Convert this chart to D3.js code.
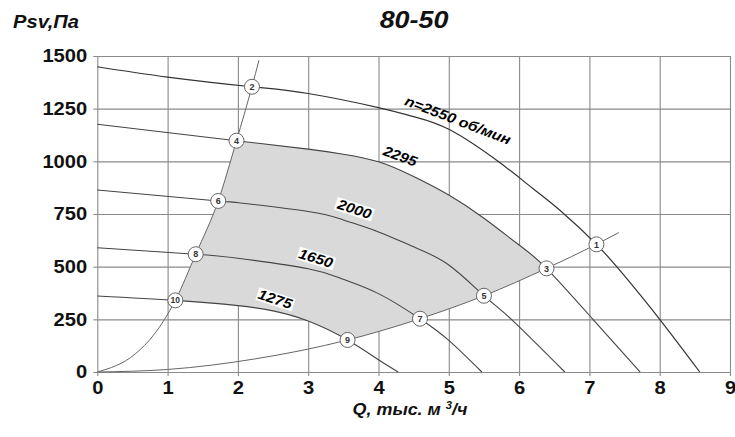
<!DOCTYPE html>
<html>
<head>
<meta charset="utf-8">
<script src="https://cdn.jsdelivr.net/npm/d3@7"></script>
<style>
  body { margin: 0; background: #fff; }
  svg { display: block; }
  text { font-family: "Liberation Sans", Arial, sans-serif; }
</style>
</head>
<body>
<svg id="chart" width="735" height="437"></svg>
<script>
// Axis ticks
const xTicks = [0, 1, 2, 3, 4, 5, 6, 7, 8, 9];
const yTicks = [0, 250, 500, 750, 1000, 1250, 1500];

// Operating points (Q in thousand m³/h, Psv in Pa)
const markers = [
  { id: 1,  q: 7.10, p: 606 },
  { id: 2,  q: 2.20, p: 1354 },
  { id: 3,  q: 6.39, p: 492 },
  { id: 4,  q: 1.98, p: 1098 },
  { id: 5,  q: 5.50, p: 362 },
  { id: 6,  q: 1.72, p: 812 },
  { id: 7,  q: 4.59, p: 253 },
  { id: 8,  q: 1.40, p: 559 },
  { id: 9,  q: 3.56, p: 152 },
  { id: 10, q: 1.11, p: 340 }
];
const M = Object.fromEntries(markers.map(m => [m.id, [m.q, m.p]]));

// Fan curves at different speeds
const fan2550 = [[0, 1449], [1, 1400], M[2], [3, 1322], [4, 1255], [4.5, 1212], [5, 1152], [5.7, 1000], [6.2, 870], [6.6, 762], M[1], [7.5, 456], [8, 250], [8.57, 0]];
const fan2295 = [[0, 1176], M[4], [3, 1058], [3.5, 1034], [4, 998], [4.5, 928], [5, 840], [5.5, 730], [6, 603], M[3], [7.05, 250], [7.72, 0]];
const fan2000 = [[0, 864], M[6], [2, 804], [3, 762], [3.5, 722], [4, 665], [4.5, 594], [5, 508], M[5], [5.89, 250], [6.65, 0]];
const fan1650 = [[0, 590], M[8], [2, 540], [3, 490], [3.5, 440], [4, 372], M[7], [5.0, 150], [5.47, 0]];
const fan1275 = [[0, 361], M[10], [2, 315], [2.5, 290], [3, 242], M[9], [4, 58], [4.28, 0]];

// System characteristics
const sysUpper = [[0, 0], [0.54, 86], [0.8, 175], M[10], M[8], M[6], M[4], M[2], [2.3, 1480]];
const sysLower = [[0, 0], [1, 12], [2.24, 62], M[9], M[7], M[5], M[3], M[1], [7.42, 662]];

// Curve captions
const curveLabels = [
  { text: "n=2550 об/мин", q: 5.13, p: 1196, angle: 21, box: false },
  { text: "2295", q: 4.31, p: 1025, angle: 20, box: false },
  { text: "2000", q: 3.66, p: 774,  angle: 18, box: true },
  { text: "1650", q: 3.11, p: 541,  angle: 17, box: true },
  { text: "1275", q: 2.53, p: 347,  angle: 18, box: true }
];

const svg = d3.select("#chart");
const plotL = 97.3, plotR = 730, plotT = 56, plotB = 372;
const W = plotR - plotL, H = plotB - plotT;
const x = d3.scaleLinear().domain([0, 9]).range([plotL, plotR]);
const y = d3.scaleLinear().domain([0, 1500]).range([plotB, plotT]);
const SX = 1.12; // horizontal stretch of lettering

const gridColor = "#8a8a8a";

// Gridlines
const gridX = svg.append("g").attr("transform", `translate(0,${plotB})`)
  .call(d3.axisBottom(x).tickValues(xTicks).tickSize(-H).tickFormat(""));
const gridY = svg.append("g").attr("transform", `translate(${plotL},0)`)
  .call(d3.axisLeft(y).tickValues(yTicks).tickSize(-W).tickFormat(""));
[gridX, gridY].forEach(g => {
  g.select(".domain").remove();
  g.selectAll(".tick line").attr("stroke", gridColor).attr("stroke-width", 1.1);
});

// Shaded working area sits under the curves
const areaLayer = svg.append("g");
const curveLayer = svg.append("g");

const fanLine = d3.line().x(d => x(d[0])).y(d => y(d[1])).curve(d3.curveNatural);
const sysLine = d3.line().x(d => x(d[0])).y(d => y(d[1])).curve(d3.curveMonotoneX);

function drawCurve(gen, data, color, width) {
  return curveLayer.append("path")
    .attr("d", gen(data))
    .attr("fill", "none")
    .attr("stroke", color)
    .attr("stroke-width", width)
    .node();
}

const p2550 = drawCurve(fanLine, fan2550, "#333", 1.2);
const p2295 = drawCurve(fanLine, fan2295, "#444", 1.1);
const p2000 = drawCurve(fanLine, fan2000, "#444", 1.1);
const p1650 = drawCurve(fanLine, fan1650, "#444", 1.1);
const p1275 = drawCurve(fanLine, fan1275, "#444", 1.1);
const pUp = drawCurve(sysLine, sysUpper, "#666", 1);
const pLo = drawCurve(sysLine, sysLower, "#666", 1);

// Sample a drawn path between two x positions (pixels), ordered by direction
function samplePath(node, x0, x1) {
  const L = node.getTotalLength();
  const pts = [];
  for (let i = 0; i <= 800; i++) {
    const pt = node.getPointAtLength(L * i / 800);
    if (pt.x >= Math.min(x0, x1) && pt.x <= Math.max(x0, x1)) pts.push([pt.x, pt.y]);
  }
  pts.sort((a, b) => x0 < x1 ? a[0] - b[0] : b[0] - a[0]);
  return pts;
}
const px = id => [x(M[id][0]), y(M[id][1])];
const region = [].concat(
  [px(4)], samplePath(p2295, px(4)[0], px(3)[0]), [px(3)],
  samplePath(pLo, px(3)[0], px(9)[0]), [px(9)],
  samplePath(p1275, px(9)[0], px(10)[0]), [px(10)],
  samplePath(pUp, px(10)[0], px(4)[0])
);
areaLayer.append("path")
  .attr("d", d3.line()(region) + "Z")
  .attr("fill", "#d9d9d9")
  .attr("stroke", "none");

// Axis labels with short outer ticks
const axX = svg.append("g").attr("transform", `translate(0,${plotB})`)
  .call(d3.axisBottom(x).tickValues(xTicks).tickSize(4).tickPadding(5).tickFormat(d3.format("d")));
const axY = svg.append("g").attr("transform", `translate(${plotL},0)`)
  .call(d3.axisLeft(y).tickValues(yTicks).tickSize(4).tickPadding(5).tickFormat(d3.format("d")));
[axX, axY].forEach(g => {
  g.select(".domain").remove();
  g.selectAll(".tick line").attr("stroke", gridColor).attr("stroke-width", 1.1);
  g.selectAll(".tick text")
    .attr("fill", "#111")
    .style("font-size", "18px")
    .style("font-weight", "bold")
    .style("font-family", "'Liberation Sans', Arial, sans-serif")
    .attr("transform", `scale(${SX},1)`);
});

// Curve captions
curveLabels.forEach(l => {
  const g = svg.append("g")
    .attr("transform", `translate(${x(l.q)},${y(l.p)}) rotate(${l.angle}) scale(${SX},1)`);
  const t = g.append("text")
    .attr("text-anchor", "middle")
    .attr("dy", "0.36em")
    .attr("fill", "#000")
    .style("font-size", "14px")
    .style("font-weight", "bold")
    .style("font-style", "italic")
    .text(l.text);
  if (l.box) {
    const b = t.node().getBBox();
    g.insert("rect", "text")
      .attr("x", b.x - 1).attr("y", b.y + 1)
      .attr("width", b.width + 2).attr("height", b.height - 2)
      .attr("fill", "#fff");
  }
});

// Numbered operating points
const mk = svg.append("g").selectAll("g").data(markers).join("g")
  .attr("transform", d => `translate(${x(d.q)},${y(d.p)})`);
mk.append("circle").attr("r", 7.5).attr("fill", "#fff").attr("stroke", "#666").attr("stroke-width", 1);
mk.append("text")
  .attr("text-anchor", "middle").attr("dy", "0.36em")
  .style("font-size", d => d.id === 10 ? "8.5px" : "9px")
  .style("font-weight", "bold")
  .attr("fill", "#333")
  .text(d => d.id);

// Titles
svg.append("text")
  .attr("transform", `translate(13,28) scale(${SX},1)`)
  .style("font-size", "18px").style("font-weight", "bold").style("font-style", "italic")
  .attr("fill", "#111")
  .text("Psv,Па");

svg.append("text")
  .attr("transform", `translate(414,28) scale(${SX},1)`)
  .attr("text-anchor", "middle")
  .style("font-size", "24px").style("font-weight", "bold").style("font-style", "italic")
  .attr("fill", "#111")
  .text("80-50");

const xt = svg.append("text")
  .attr("transform", `translate(410,415) scale(${SX},1)`)
  .attr("text-anchor", "middle")
  .style("font-size", "16px").style("font-weight", "bold").style("font-style", "italic")
  .attr("fill", "#111");
xt.append("tspan").text("Q, тыс. м ");
xt.append("tspan").attr("dy", "-6").style("font-size", "10px").text("3");
xt.append("tspan").attr("dy", "6").text("/ч");
</script>
</body>
</html>
